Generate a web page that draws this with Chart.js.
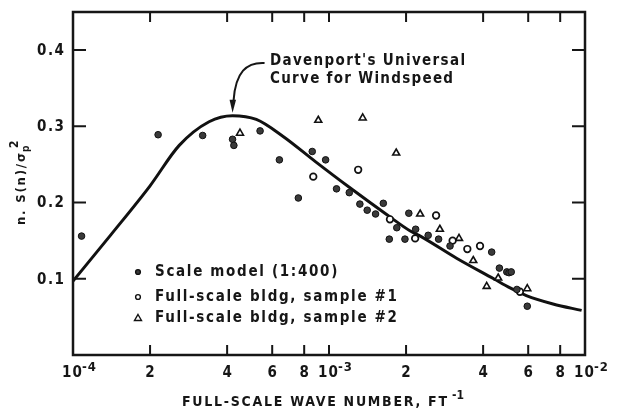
<!DOCTYPE html>
<html>
<head>
<meta charset="utf-8">
<script src="https://cdn.jsdelivr.net/npm/chart.js@4.4.1/dist/chart.umd.min.js"></script>
<style>
    html, body { margin: 0; padding: 0; background: #fff; }
</style>
</head>
<body>
<canvas id="grafico" width="617" height="412"></canvas>
<script>
// ------------ Data ------------ //

var scaleModelX = [1.08e-4, 2.15e-4, 3.21e-4, 4.2e-4, 4.25e-4, 5.38e-4, 6.4e-4, 7.59e-4, 8.6e-4, 9.7e-4,
    1.07e-3, 1.2e-3, 1.32e-3, 1.41e-3, 1.52e-3, 1.63e-3, 1.72e-3, 1.84e-3, 1.98e-3, 2.05e-3,
    2.18e-3, 2.44e-3, 2.68e-3, 2.97e-3, 4.32e-3, 4.63e-3, 4.95e-3, 5.05e-3, 5.15e-3, 5.42e-3, 5.95e-3];
var scaleModelY = [0.156, 0.289, 0.288, 0.283, 0.275, 0.294, 0.256, 0.206, 0.267, 0.256,
    0.218, 0.213, 0.198, 0.190, 0.185, 0.199, 0.152, 0.167, 0.152, 0.186,
    0.165, 0.157, 0.152, 0.143, 0.135, 0.114, 0.109, 0.108, 0.109, 0.086, 0.064];

var sample1X = [8.68e-4, 1.30e-3, 1.73e-3, 2.17e-3, 2.62e-3, 3.04e-3, 3.47e-3, 3.89e-3, 5.57e-3];
var sample1Y = [0.234, 0.243, 0.178, 0.153, 0.183, 0.150, 0.139, 0.143, 0.083];

var sample2X = [4.49e-4, 9.08e-4, 1.354e-3, 1.83e-3, 2.27e-3, 2.71e-3, 3.22e-3, 3.66e-3, 4.13e-3, 4.58e-3, 5.95e-3];
var sample2Y = [0.291, 0.308, 0.311, 0.265, 0.185, 0.165, 0.153, 0.124, 0.090, 0.101, 0.087];

// Davenport's universal curve
var curveX = [1.0e-4, 1.4e-4, 2.0e-4, 2.6e-4, 3.4e-4, 4.2e-4, 5.2e-4, 6.6e-4, 8.9e-4, 1.2e-3,
    1.7e-3, 2.07e-3, 2.3e-3, 3.15e-3, 4.4e-3, 5.1e-3, 5.9e-3, 7.5e-3, 9.7e-3];
var curveY = [0.097, 0.157, 0.222, 0.275, 0.306, 0.314, 0.309, 0.287, 0.253, 0.220,
    0.183, 0.163, 0.155, 0.127, 0.100, 0.088, 0.078, 0.067, 0.0585];

var xTicks = [1e-4, 2e-4, 4e-4, 6e-4, 8e-4, 1e-3, 2e-3, 4e-3, 6e-3, 8e-3, 1e-2];
var yTicks = [0.1, 0.2, 0.3, 0.4];

var legendLabels = ['Scale model (1:400)', 'Full-scale bldg, sample #1', 'Full-scale bldg, sample #2'];

// ------------ Helpers ------------ //

var FONTE = '"DejaVu Sans Condensed", "DejaVu Sans", sans-serif';
var TINTA = '#161616';

function pares(xs, ys) {
    return xs.map(function (x, i) { return { x: x, y: ys[i] }; });
}

// spacing needed so that txt takes the given width
function espacoPara(ctx, txt, largura, fonte) {
    ctx.font = fonte;
    ctx.letterSpacing = '0px';
    var w = ctx.measureText(txt).width;
    return txt.length > 1 ? (largura - w) / (txt.length - 1) : 0;
}

function textoComEspaco(ctx, txt, x, y, esp, fonte) {
    ctx.font = fonte;
    ctx.letterSpacing = esp + 'px';
    ctx.fillText(txt, x, y);
    ctx.letterSpacing = '0px';
}

// draws text stretched to a target width using letter spacing
function textoEspacado(ctx, txt, x, y, largura, fonte) {
    textoComEspaco(ctx, txt, x, y, espacoPara(ctx, txt, largura, fonte), fonte);
    return x + largura;
}

// ------------ Plugin: frame, ticks, labels, legend, note ------------ //

var moldura = {
    id: 'moldura',
    afterDatasetsDraw: function (chart) {
        var ctx = chart.ctx;
        var a = chart.chartArea;
        var sx = chart.scales.x, sy = chart.scales.y;
        ctx.save();
        ctx.strokeStyle = TINTA;
        ctx.fillStyle = TINTA;

        // frame
        ctx.lineWidth = 2.5;
        ctx.strokeRect(a.left, a.top, a.right - a.left, a.bottom - a.top);

        // inward ticks
        ctx.lineWidth = 2;
        xTicks.forEach(function (v) {
            if (v === xTicks[0] || v === xTicks[xTicks.length - 1]) return;
            var px = sx.getPixelForValue(v);
            ctx.beginPath();
            ctx.moveTo(px, a.bottom); ctx.lineTo(px, a.bottom - 10);
            ctx.moveTo(px, a.top); ctx.lineTo(px, a.top + 10);
            ctx.stroke();
        });
        yTicks.forEach(function (v) {
            var py = sy.getPixelForValue(v);
            ctx.beginPath();
            ctx.moveTo(a.left, py); ctx.lineTo(a.left + 13, py);
            ctx.moveTo(a.right, py); ctx.lineTo(a.right - 13, py);
            ctx.stroke();
        });

        // y tick labels
        ctx.textBaseline = 'middle';
        yTicks.forEach(function (v) {
            var py = sy.getPixelForValue(v);
            ctx.textAlign = 'left';
            textoEspacado(ctx, v.toFixed(1), a.left - 36, py + 1, 27, 'bold 15px ' + FONTE);
        });

        // x tick labels
        xTicks.forEach(function (v) {
            var px = sx.getPixelForValue(v);
            var exp = Math.floor(Math.log10(v) + 1e-9);
            var mant = Math.round(v / Math.pow(10, exp));
            var yy = a.bottom + 18;
            if (mant === 1) {
                ctx.textAlign = 'left';
                textoComEspaco(ctx, '10', px - 11, yy, 1, 'bold 15px ' + FONTE);
                textoEspacado(ctx, '-' + (-exp), px + 9, yy - 5, 14, 'bold 13px ' + FONTE);
            } else {
                ctx.textAlign = 'center';
                ctx.font = 'bold 15px ' + FONTE;
                ctx.fillText(String(mant), px, yy);
            }
        });

        // x axis title
        ctx.textAlign = 'left';
        var fim = textoEspacado(ctx, 'FULL-SCALE WAVE NUMBER, FT', 182, 402, 265, 'bold 14px ' + FONTE);
        textoEspacado(ctx, '-1', fim + 5, 396, 12, 'bold 12px ' + FONTE);

        // y axis title (rotated)
        ctx.save();
        ctx.translate(22, 186);
        ctx.rotate(-Math.PI / 2);
        ctx.textAlign = 'left';
        var p = textoEspacado(ctx, 'n. S(n)/\u03c3', -39, 0, 72, 'bold 13px ' + FONTE);
        textoEspacado(ctx, 'p', p + 1, 4, 6, 'bold 10px ' + FONTE);
        textoEspacado(ctx, '2', p + 5, -7, 8, 'bold 12px ' + FONTE);
        ctx.restore();

        // legend inside the plot (same letter spacing on every row)
        var linhas = [272, 297, 318];
        var fonteLeg = 'bold 15px ' + FONTE;
        var espLeg = espacoPara(ctx, legendLabels[1], 242, fonteLeg);
        chart.data.datasets.slice(0, 3).forEach(function (ds, i) {
            var ly = linhas[i];
            ctx.save();
            ctx.lineWidth = 1.4;
            ctx.strokeStyle = ds.borderColor;
            ctx.fillStyle = ds.backgroundColor;
            ctx.beginPath();
            if (ds.pointStyle === 'triangle') {
                ctx.moveTo(138, ly - 3.5); ctx.lineTo(141.5, ly + 2.5); ctx.lineTo(134.5, ly + 2.5); ctx.closePath();
            } else {
                ctx.arc(138, ly, 2.4, 0, Math.PI * 2);
            }
            ctx.fill(); ctx.stroke();
            ctx.restore();
            ctx.textAlign = 'left';
            textoComEspaco(ctx, legendLabels[i], 155, ly, espLeg, fonteLeg);
        });

        // annotation with arrow to the curve peak
        textoEspacado(ctx, "Davenport's Universal", 270, 61, 195, 'bold 15px ' + FONTE);
        textoEspacado(ctx, 'Curve for Windspeed', 270, 79, 183, 'bold 15px ' + FONTE);
        var tx = sx.getPixelForValue(curveX[5]);
        var ty = sy.getPixelForValue(curveY[5]) - 3;
        ctx.lineWidth = 2;
        ctx.beginPath();
        ctx.moveTo(tx + 32, 63);
        ctx.bezierCurveTo(tx + 14, 62, tx + 3, 72, tx + 1, ty - 12);
        ctx.stroke();
        ctx.beginPath();
        ctx.moveTo(tx, ty);
        ctx.lineTo(tx - 3, ty - 13);
        ctx.lineTo(tx + 3.5, ty - 13);
        ctx.closePath();
        ctx.fill();

        ctx.restore();
    }
};

// ------------ Chart ------------ //

var ctxGrafico = document.getElementById('grafico').getContext('2d');
var grafico = new Chart(ctxGrafico, {
    type: 'scatter',
    data: {
        datasets: [{
            label: legendLabels[0],
            data: pares(scaleModelX, scaleModelY),
            pointStyle: 'circle',
            pointRadius: 3.3,
            borderWidth: 1,
            backgroundColor: '#3a3a3a',
            borderColor: '#111'
        }, {
            label: legendLabels[1],
            data: pares(sample1X, sample1Y),
            pointStyle: 'circle',
            pointRadius: 3.3,
            borderWidth: 1.7,
            backgroundColor: '#fff',
            borderColor: '#111'
        }, {
            label: legendLabels[2],
            data: pares(sample2X, sample2Y),
            pointStyle: 'triangle',
            pointRadius: 4,
            borderWidth: 1.6,
            backgroundColor: '#fff',
            borderColor: '#111'
        }, {
            type: 'line',
            label: 'Davenport',
            data: pares(curveX, curveY),
            borderColor: '#111',
            borderWidth: 3,
            pointRadius: 0,
            cubicInterpolationMode: 'monotone',
            fill: false,
            order: 5
        }]
    },
    options: {
        responsive: false,
        animation: false,
        layout: { padding: { top: 12, right: 32, left: 0, bottom: 0 } },
        plugins: {
            legend: { display: false },
            tooltip: { enabled: false }
        },
        scales: {
            x: {
                type: 'logarithmic',
                min: 1e-4,
                max: 1e-2,
                grid: { display: false },
                border: { display: false },
                ticks: { display: false },
                afterFit: function (s) { s.height = 57; }
            },
            y: {
                min: 0,
                max: 0.45,
                grid: { display: false },
                border: { display: false },
                ticks: { display: false },
                afterFit: function (s) { s.width = 73; }
            }
        }
    },
    plugins: [moldura]
});
</script>
</body>
</html>
